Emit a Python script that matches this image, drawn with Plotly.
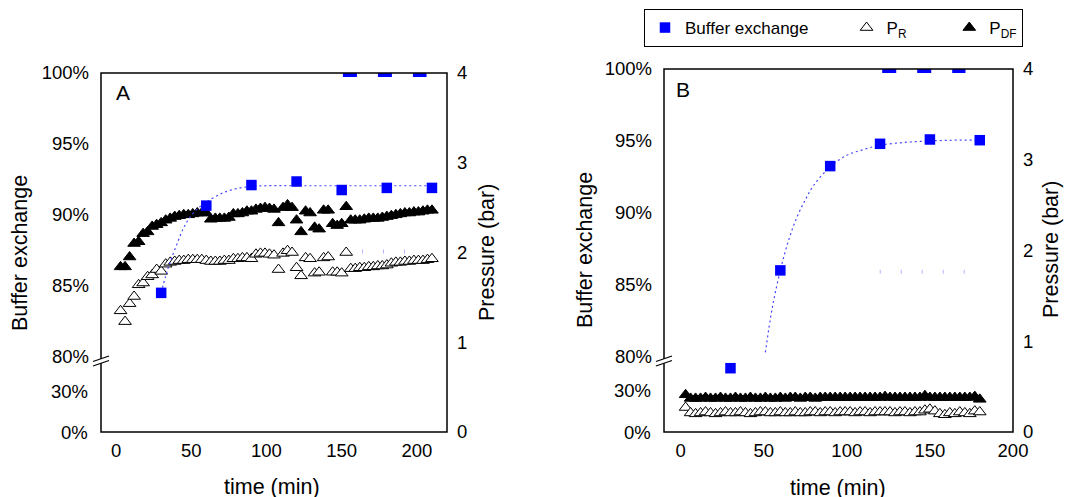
import plotly.graph_objects as go

W, H = 1078, 497
OFF = 8  # page body margin of the html page
FONT = "Liberation Sans, Arial, sans-serif"

# ---------------- data ----------------
tA = [3, 6, 9, 12, 15, 18, 21, 24, 27, 30, 33, 36, 39, 42, 45, 48, 51, 54, 57, 60,
      63, 66, 69, 72, 75, 78, 81, 84, 87, 90, 93, 96, 99, 102, 105, 108, 111, 114, 117, 120,
      123, 126, 129, 132, 135, 138, 141, 144, 147, 150, 153, 156, 159, 162, 165, 168, 171, 174, 177, 180,
      183, 186, 189, 192, 195, 198, 201, 204, 207, 210]
pdfA = [1.84, 1.84, 1.95, 2.10, 2.12, 2.21, 2.23, 2.29, 2.31, 2.33,
        2.36, 2.38, 2.40, 2.41, 2.42, 2.42, 2.43, 2.44, 2.44, 2.44,
        2.37, 2.38, 2.38, 2.38, 2.39, 2.43, 2.43, 2.44, 2.46, 2.46,
        2.48, 2.49, 2.50, 2.49, 2.48, 2.33, 2.50, 2.53, 2.50, 2.36,
        2.23, 2.46, 2.44, 2.28, 2.26, 2.47, 2.47, 2.32, 2.30, 2.32,
        2.51, 2.36, 2.36, 2.36, 2.37, 2.38, 2.38, 2.38, 2.39, 2.40,
        2.41, 2.42, 2.43, 2.44, 2.44, 2.45, 2.45, 2.46, 2.47, 2.47]
prA = [1.35, 1.23, 1.43, 1.51, 1.64, 1.66, 1.73, 1.75, 1.81, 1.79,
       1.87, 1.89, 1.90, 1.91, 1.91, 1.92, 1.92, 1.92, 1.92, 1.91,
       1.90, 1.90, 1.90, 1.91, 1.91, 1.93, 1.93, 1.94, 1.94, 1.93,
       1.98, 1.99, 1.99, 1.98, 1.97, 1.81, 1.99, 2.02, 2.00, 1.83,
       1.74, 1.94, 1.93, 1.77, 1.78, 1.94, 1.95, 1.78, 1.78, 1.77,
       2.00, 1.82, 1.82, 1.83, 1.83, 1.84, 1.84, 1.85, 1.85, 1.86,
       1.88, 1.89, 1.89, 1.90, 1.90, 1.91, 1.91, 1.91, 1.92, 1.93]
bufA_t = [30, 60, 90, 120, 150, 180, 210]
bufA = [84.5, 90.65, 92.1, 92.35, 91.75, 91.9, 91.9]
fitA_t = [30, 33, 36, 40, 45, 50, 55, 60, 70, 80, 90, 100, 120, 150, 180, 210]
fitA = [84.5, 85.7, 86.7, 87.8, 89.1, 89.95, 90.5, 90.9, 91.5, 91.85, 92.0, 92.05, 92.05, 92.05, 92.05, 92.05]
capA_t = [150.8, 206.4]
capA = [100, 100]
faintA_t = [163.5, 205.0]
faintA = [2.01, 2.01]

tB = [3, 6, 9, 12, 15, 18, 21, 24, 27, 30, 33, 36, 39, 42, 45, 48, 51, 54, 57, 60,
      63, 66, 69, 72, 75, 78, 81, 84, 87, 90, 93, 96, 99, 102, 105, 108, 111, 114, 117, 120,
      123, 126, 129, 132, 135, 138, 141, 144, 147, 150, 153, 156, 159, 162, 165, 168, 171, 174, 177, 180]
pdfB = [0.41, 0.37, 0.37, 0.37, 0.38, 0.37, 0.37, 0.38, 0.37, 0.37,
        0.38, 0.37, 0.37, 0.38, 0.37, 0.37, 0.38, 0.37, 0.37, 0.38,
        0.37, 0.38, 0.38, 0.37, 0.38, 0.38, 0.37, 0.38, 0.38, 0.38,
        0.38, 0.38, 0.38, 0.38, 0.38, 0.38, 0.38, 0.38, 0.38, 0.38,
        0.39, 0.38, 0.38, 0.38, 0.38, 0.38, 0.38, 0.38, 0.40, 0.38,
        0.38, 0.38, 0.38, 0.38, 0.38, 0.38, 0.38, 0.38, 0.39, 0.36]
prB = [0.27, 0.21, 0.20, 0.21, 0.22, 0.21, 0.20, 0.21, 0.22, 0.21,
       0.21, 0.22, 0.21, 0.20, 0.21, 0.22, 0.22, 0.21, 0.21, 0.22,
       0.21, 0.21, 0.22, 0.21, 0.21, 0.22, 0.22, 0.21, 0.22, 0.22,
       0.21, 0.22, 0.22, 0.22, 0.21, 0.22, 0.22, 0.21, 0.22, 0.22,
       0.22, 0.22, 0.21, 0.22, 0.22, 0.21, 0.22, 0.22, 0.24, 0.25,
       0.23, 0.20, 0.19, 0.21, 0.20, 0.22, 0.21, 0.20, 0.23, 0.22]
bufB_t = [30, 60, 90, 120, 150, 180]
bufB = [79.2, 86.0, 93.25, 94.8, 95.1, 95.05]
fitB_t = [51, 55, 60, 65, 70, 75, 80, 90, 100, 110, 120, 135, 150, 165, 180]
fitB = [80.3, 83.3, 86.0, 88.1, 89.7, 90.9, 91.9, 93.2, 94.0, 94.4, 94.7, 94.9, 95.0, 95.05, 95.05]
capB_t = [121.3, 171.4]
capB = [100, 100]
faintB_t = [119.8, 171.0]
faintB = [1.766, 1.766]

x_ticks = [0, 50, 100, 150, 200]
x_minor = [25, 75, 125, 175]
p_ticks = [0, 1, 2, 3, 4]
p_minor = [0.5, 1.5, 2.5, 3.5]
up_ticks = [80, 85, 90, 95, 100]
up_labels = ["80%", "85%", "90%", "95%", "100%"]
lo_ticks = [0, 30]
lo_labels = ["0%", "30%"]
lo_minor = [7.5, 15, 22.5, 37.5, 45]

LEG_BUF = "Buffer exchange" + "\u00a0" * 7
LEG_PR = "P<sub>R</sub>" + "\u00a0" * 8
LEG_PDF = "P<sub>DF</sub>"
BLUE = "#0000ff"

fig = go.Figure()


def fy(p):
    return 1 - (p - OFF) / H


def fx(p):
    return (p - OFF) / W


up_minor = [round(80 + k * 5 / 6, 4) for k in range(1, 24) if k % 6 != 0]
UP_BOTTOM = 376   # bottom pixel row of the upper percent segment
LO_TOP = 360      # top pixel row of the lower percent segment

panels = [
    dict(t=tA, pdf=pdfA, pr=prA, bt=bufA_t, b=bufA, ft=fitA_t, f=fitA,
         ct=capA_t, c=capA, gt=faintA_t, g=faintA,
         xa="x", ya_p="y", ya_u="y2", ya_l="y3",
         xn="xaxis", yn_p="yaxis", yn_u="yaxis2", yn_l="yaxis3", legend=True,
         left=101, right=447, top=73, bottom=432, xr=[-10, 220],
         up_lo=78.639, lo_hi=53.2),
    dict(t=tB, pdf=pdfB, pr=prB, bt=bufB_t, b=bufB, ft=fitB_t, f=fitB,
         ct=capB_t, c=capB, gt=faintB_t, g=faintB,
         xa="x2", ya_p="y4", ya_u="y5", ya_l="y6",
         xn="xaxis2", yn_p="yaxis4", yn_u="yaxis5", yn_l="yaxis6", legend=False,
         left=664, right=1013, top=69, bottom=432, xr=[-10, 200],
         up_lo=78.658, lo_hi=51.43),
]

for P in panels:
    fig.add_trace(go.Scatter(
        x=P["t"], y=P["pdf"], xaxis=P["xa"], yaxis=P["ya_p"], mode="markers",
        name=LEG_PDF, legendrank=3, showlegend=P["legend"],
        marker=dict(symbol="triangle-up", size=11, color="black",
                    line=dict(color="black", width=1))))
    fig.add_trace(go.Scatter(
        x=P["t"], y=P["pr"], xaxis=P["xa"], yaxis=P["ya_p"], mode="markers",
        name=LEG_PR, legendrank=2, showlegend=P["legend"],
        marker=dict(symbol="triangle-up", size=11, color="white",
                    line=dict(color="black", width=1))))
    fig.add_trace(go.Scatter(
        x=P["gt"], y=P["g"], xaxis=P["xa"], yaxis=P["ya_p"], mode="lines",
        showlegend=False, hoverinfo="skip",
        line=dict(color="rgba(120,120,255,0.55)", width=4, dash="1px,20px")))
    fig.add_trace(go.Scatter(
        x=P["ft"], y=P["f"], xaxis=P["xa"], yaxis=P["ya_u"], mode="lines",
        showlegend=False, line=dict(color="rgb(70,70,255)", width=1.2,
                                    dash="2px,3px", shape="spline")))
    fig.add_trace(go.Scatter(
        x=P["bt"], y=P["b"], xaxis=P["xa"], yaxis=P["ya_u"], mode="markers",
        name=LEG_BUF, legendrank=1, showlegend=P["legend"],
        marker=dict(symbol="square", size=10.5, color=BLUE, line=dict(width=0))))
    fig.add_trace(go.Scatter(
        x=P["ct"], y=P["c"], xaxis=P["xa"], yaxis=P["ya_u"], mode="lines",
        showlegend=False, hoverinfo="skip",
        line=dict(color=BLUE, width=8, dash="14px,21px")))

tickfont = dict(family=FONT, size=18.5, color="black")


def ax(tickvals, ticktext=None, **kw):
    d = dict(showgrid=False, zeroline=False, automargin=False, showline=False,
             ticks="", tickfont=tickfont, tickmode="array", tickvals=tickvals, **kw)
    if ticktext is not None:
        d["ticktext"] = ticktext
    return d


la = {}
shapes = []
annotations = []

for P in panels:
    L, R, T, Bt = P["left"], P["right"], P["top"], P["bottom"]
    xr0, xr1 = P["xr"]
    la[P["xn"]] = ax(x_ticks, domain=[fx(L), fx(R)], range=P["xr"],
                     anchor=P["ya_p"], ticklabelstandoff=5)
    la[P["yn_p"]] = ax(p_ticks, domain=[fy(Bt), fy(T)], range=[0, 4],
                       anchor=P["xa"], side="right", ticklabelstandoff=9)
    la[P["yn_u"]] = ax(up_ticks, up_labels, domain=[fy(UP_BOTTOM), fy(T)],
                       range=[P["up_lo"], 100], anchor=P["xa"], side="left",
                       ticklabelstandoff=11)
    la[P["yn_l"]] = ax(lo_ticks, lo_labels, domain=[fy(Bt), fy(LO_TOP)],
                       range=[0, P["lo_hi"]], anchor=P["xa"], side="left",
                       showticklabels=False)

    # inside tick marks along the frame, one path per panel, same linear scales
    def px_time(v):
        return L + (v - xr0) / (xr1 - xr0) * (R - L)

    def py_pres(v):
        return Bt - v / 4 * (Bt - T)

    def py_up(v):
        return T + (100 - v) / (100 - P["up_lo"]) * (UP_BOTTOM - T)

    def py_lo(v):
        return Bt - v / P["lo_hi"] * (Bt - LO_TOP)

    segs = []
    for vals, ln in [(x_ticks, 9), (x_minor, 5)]:
        for v in vals:
            if xr0 <= v <= xr1:
                xp = px_time(v)
                segs.append(f"M{xp - OFF:.2f},{Bt - OFF:.2f}L{xp - OFF:.2f},{Bt - ln - OFF:.2f}")
    for vals, ln in [(p_ticks, 9), (p_minor, 5)]:
        for v in vals:
            yp = py_pres(v)
            segs.append(f"M{R - ln - OFF:.2f},{yp - OFF:.2f}L{R - OFF:.2f},{yp - OFF:.2f}")
    for fn, vmaj, vmin in [(py_up, up_ticks, up_minor), (py_lo, lo_ticks, lo_minor)]:
        for vals, ln in [(vmaj, 9), (vmin, 5)]:
            for v in vals:
                yp = fn(v)
                segs.append(f"M{L - OFF:.2f},{yp - OFF:.2f}L{L + ln - OFF:.2f},{yp - OFF:.2f}")
    # path in pixel units of the figure: xref/yref paper with sizemode pixel
    shapes.append(dict(type="path", xref="paper", yref="paper",
                       xsizemode="pixel", ysizemode="pixel", xanchor=0, yanchor=1,
                       path=" ".join(s.replace(",", ",-", 1) if False else s for s in segs),
                       line=dict(color="black", width=1.6), layer="above"))

    # lower-segment tick labels
    for v, txt in zip(lo_ticks, lo_labels):
        annotations.append(dict(text=txt, xref="paper", x=fx(L), xanchor="right",
                                xshift=-11, yref=P["ya_l"], y=v, yanchor="middle",
                                showarrow=False, font=tickfont))

    # frame
    shapes.append(dict(type="rect", xref="paper", yref="paper",
                       x0=fx(L), x1=fx(R), y0=fy(Bt), y1=fy(T),
                       line=dict(color="black", width=1.5), layer="above"))
    # axis-break symbol on the left axis
    a0x, a1x = L - 8, L + 8
    path = (f"M{fx(a0x)},{fy(361.5)} L{fx(a1x)},{fy(356)} "
            f"L{fx(a1x)},{fy(360.5)} L{fx(a0x)},{fy(366)} Z")
    shapes.append(dict(type="path", xref="paper", yref="paper", path=path,
                       fillcolor="white", line=dict(width=0), layer="above"))
    for yy0, yy1 in [(361.5, 356), (366, 360.5)]:
        shapes.append(dict(type="line", xref="paper", yref="paper",
                           x0=fx(a0x), y0=fy(yy0), x1=fx(a1x), y1=fy(yy1),
                           line=dict(color="black", width=1.3), layer="above"))

titles = [
    ("A", 123, 92, 0, 21),
    ("B", 683, 90, 0, 21),
    ("Buffer exchange", 20, 253, -90, 21.5),
    ("Buffer exchange", 585, 250, -90, 21.5),
    ("Pressure (bar)", 487, 252, -90, 21.5),
    ("Pressure (bar)", 1051, 250, -90, 21.5),
    ("time (min)", 272, 487, 0, 21.5),
    ("time (min)", 838, 488, 0, 21.5),
]
for txt, x, y, ang, sz in titles:
    annotations.append(dict(text=txt, xref="paper", yref="paper", x=fx(x), y=fy(y),
                            xanchor="center", yanchor="middle", showarrow=False,
                            textangle=ang, font=dict(family=FONT, size=sz, color="black")))

fig.update_layout(
    template="none",
    width=W, height=H, margin=dict(l=0, r=0, t=0, b=0, pad=0, autoexpand=False),
    paper_bgcolor="white", plot_bgcolor="rgba(0,0,0,0)",
    font=dict(family=FONT, color="black"),
    showlegend=True,
    legend=dict(orientation="h", x=fx(644), y=fy(9), xanchor="left", yanchor="top",
                bordercolor="black", borderwidth=1, bgcolor="white",
                font=dict(family=FONT, size=17, color="black"),
                traceorder="normal"),
    shapes=shapes, annotations=annotations,
    **la,
)

fig.write_html("out.html")
